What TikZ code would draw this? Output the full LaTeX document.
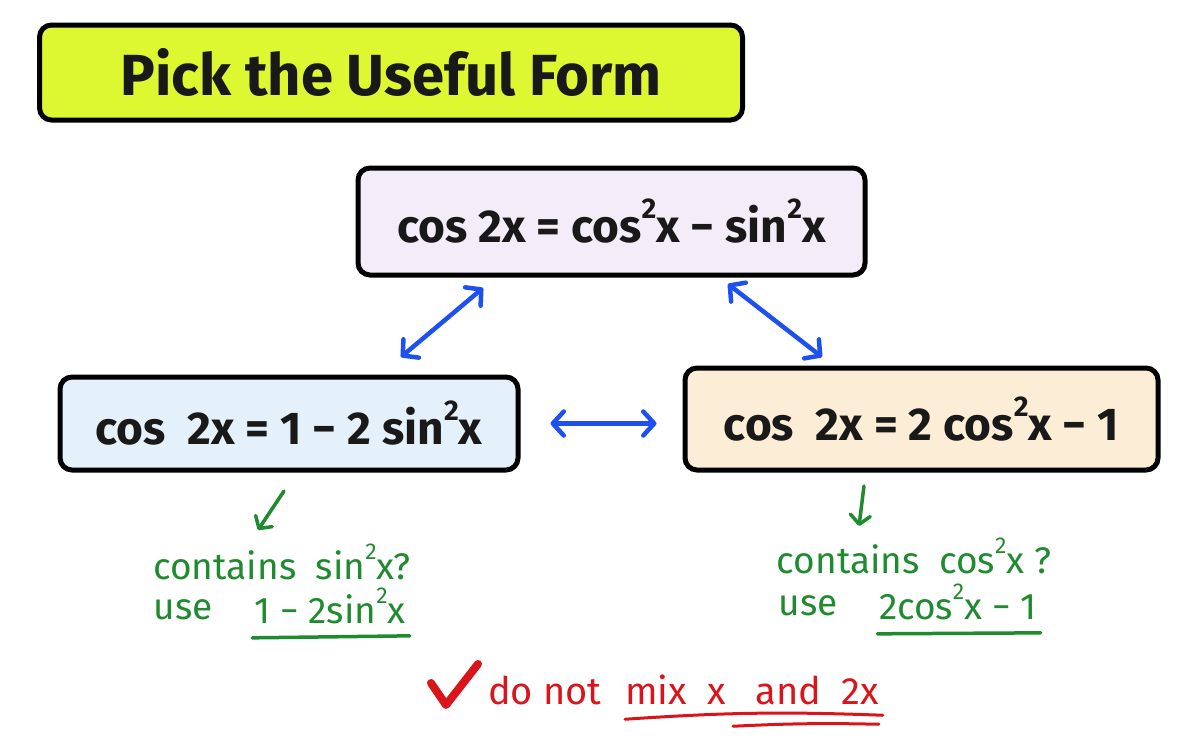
\documentclass[tikz,border=0pt]{standalone}
\usepackage{fontspec}
\setmainfont{Fira Sans}
\usetikzlibrary{arrows.meta,calc}
\definecolor{titlefill}{HTML}{DDF731}
\definecolor{lavfill}{HTML}{F2EDF8}
\definecolor{bluefill}{HTML}{E4F1FB}
\definecolor{peachfill}{HTML}{FCEDD6}
\definecolor{arrowblue}{HTML}{1E50F0}
\definecolor{hintgreen}{HTML}{1F8B2F}
\definecolor{warnred}{HTML}{D9151B}
\newcommand{\sq}{\raisebox{0.52em}{\scalebox{0.62}{2}}}
\begin{document}
\begin{tikzpicture}[x=1pt,y=-1pt,
  box/.style={draw=black, line width=5pt, rounded corners=12pt, inner sep=0pt, text=black!90},
  formula/.style={font=\fontsize{46}{50}\selectfont\bfseries},
  bluearrow/.style={draw=arrowblue, line width=4.5pt, line cap=round,
    {Straight Barb[length=11pt,width=24pt,line width=4.5pt,round]}-{Straight Barb[length=11pt,width=24pt,line width=4.5pt,round]}},
  greenarrow/.style={draw=hintgreen, line width=3.5pt, line cap=round,
    -{Straight Barb[length=9pt,width=20pt,line width=3.5pt,round]}},
  hint/.style={text=hintgreen, font=\fontsize{37}{42}\selectfont, inner sep=0pt},
  warn/.style={text=warnred, font=\fontsize{38}{44}\selectfont, inner sep=0pt},
]
\useasboundingbox[fill=white] (0,0) rectangle (1200,742);

% title
\node[box, fill=titlefill, minimum width=703pt, minimum height=95pt,
      font=\fontsize{58}{64}\selectfont\bfseries] (title) at (391,72.5) {Pick the Useful Form};

% formula boxes
\node[box, fill=lavfill, minimum width=507pt, minimum height=107pt, formula] (top) at (611.5,221.5)
  {cos 2x = cos\sq x − sin\sq x};
\node[box, fill=bluefill, minimum width=458pt, minimum height=93pt, formula] (left) at (289,423.5)
  {cos\ \ 2x\ = 1 − 2 sin\sq x};
\node[box, fill=peachfill, minimum width=473pt, minimum height=102pt, formula] (right) at (921.5,419)
  {cos\ \ 2x\ = 2 cos\sq x − 1};

% blue connectors
\coordinate (tl1) at (483,288);
\coordinate (tl2) at (401,357);
\coordinate (tr1) at (728,284);
\coordinate (tr2) at (822,357);
\draw[bluearrow] (tl1) -- (tl2);
\draw[bluearrow] (tr1) -- (tr2);
\draw[bluearrow, shorten <=30pt, shorten >=26pt] (left.east) -- (left.east -| right.west);

% green hints
\coordinate (gl1) at (284,491);
\coordinate (gl2) at (258,530);
\coordinate (gr1) at (864,486);
\coordinate (gr2) at (859,526);
\draw[greenarrow] (gl1) -- (gl2);
\draw[greenarrow] (gr1) -- (gr2);

\node[hint] (lc) at (282,562) {contains\ \ sin\sq x?};
\node[hint] (lu) at (183,610) {use};
\node[hint] (lf) at (330,606) {1 − 2sin\sq x};
\draw[hintgreen, line width=3.5pt, line cap=round] ($(lf.south west)+(-2,14)$) -- ($(lf.south east)+(4,12)$);

\node[hint] (rc) at (914,556) {contains\ \ cos\sq x\ ?};
\node[hint] (ru) at (808,606) {use};
\node[hint] (rf) at (958,602) {2cos\sq x − 1};
\draw[hintgreen, line width=3.5pt, line cap=round] ($(rf.south west)+(-2,14)$) -- ($(rf.south east)+(4,13)$);

% red warning
\draw[warnred, line width=8pt, line cap=round, line join=round] (431,683) -- (446,705) -- (478,664);
\node[warn, anchor=west] (w1) at (488,690) {do not};
\node[warn, anchor=west] (w2) at (625,690) {mix\ \ x\ \ \ and\ \ 2x};
\draw[warnred, line width=3pt, line cap=round] ($(w2.south west)+(0,14)$) to[bend left=3] ($(w2.south east)+(4,10)$);
\draw[warnred, line width=3pt, line cap=round] ($(w2.south west)+(108,21)$) to[bend left=2] ($(w2.south east)+(0,19)$);
\end{tikzpicture}
\end{document}
